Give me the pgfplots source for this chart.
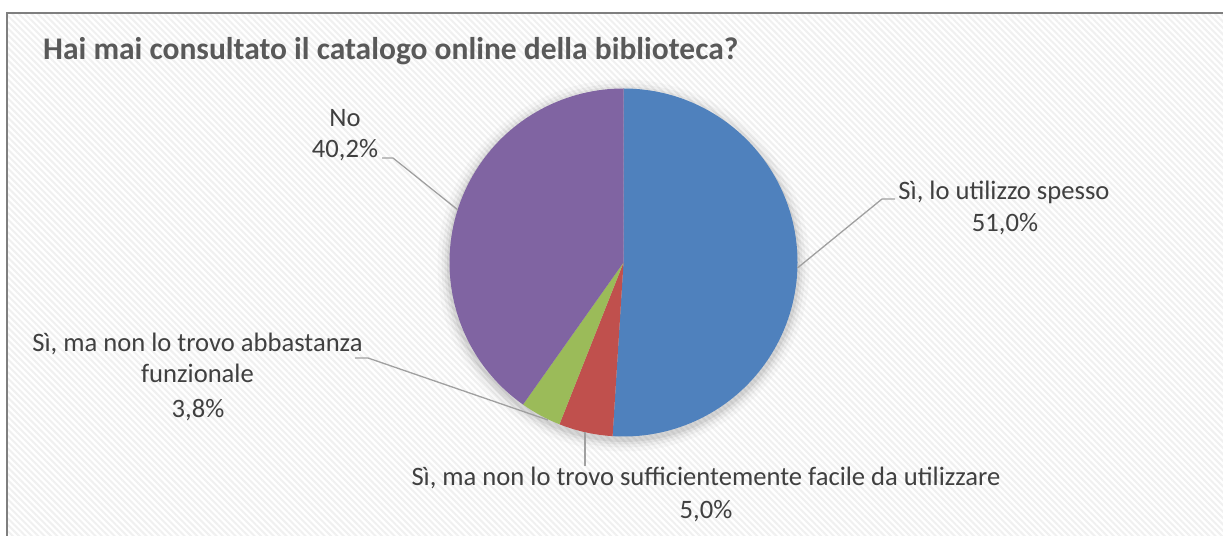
\documentclass[border=0pt]{standalone}
\usepackage{pgfplots}
\pgfplotsset{compat=1.18}
\usepackage{pgfplotstable}
\usetikzlibrary{patterns.meta}
\usepackage{fontspec}
\setmainfont{Carlito}
\definecolor{pieblue}{HTML}{4F81BD}
\definecolor{piered}{HTML}{C0504D}
\definecolor{piegreen}{HTML}{9BBB59}
\definecolor{piepurple}{HTML}{8064A2}
\definecolor{labeltext}{HTML}{404040}
\definecolor{titletext}{HTML}{595959}
\definecolor{leader}{HTML}{A0A0A0}
\definecolor{framegray}{HTML}{7F7F7F}
\newcommand\labfont{\fontsize{26.6bp}{30bp}\selectfont}
\newcommand\titfont{\fontsize{31.5bp}{34bp}\selectfont\bfseries}

\pgfplotstableread{
share colour
51.0 pieblue
5.0 piered
3.8 piegreen
40.2 piepurple
}\piedata

\begin{document}
\begin{tikzpicture}[lab/.style={text=labeltext, inner sep=0pt, anchor=base}]
\useasboundingbox (0,0) rectangle (1223bp,536bp);
\clip (0,0) rectangle (1223bp,536bp);
% cumulative angles from the data (clockwise from 12 o'clock)
\xdef\cum{90}
\foreach \i in {0,...,3}{%
  \pgfplotstablegetelem{\i}{share}\of\piedata
  \pgfmathsetmacro\endang{\cum-3.6*\pgfplotsretval}%
  \expandafter\xdef\csname sa\i\endcsname{\cum}%
  \expandafter\xdef\csname ea\i\endcsname{\endang}%
  \pgfplotstablegetelem{\i}{colour}\of\piedata
  \expandafter\xdef\csname col\i\endcsname{\pgfplotsretval}%
  \xdef\cum{\endang}%
}
\begin{axis}[
  at={(0,0)}, anchor=south west,
  width=1223bp, height=536bp, scale only axis,
  xmin=0, xmax=1223, ymin=0, ymax=536,
  hide axis, clip=false,
]
% background and frame
\fill[white] (axis cs:0,0) rectangle (axis cs:1223,536);
\fill[pattern={Lines[angle=-45,distance=4.5bp,line width=2bp]}, pattern color=black!6]
  (axis cs:7,523) rectangle (axis cs:1260,-30);
\draw[framegray, line width=2bp] (axis cs:7,-30) -- (axis cs:7,523) -- (axis cs:1260,523);
% soft shadow
\fill[black, opacity=0.025] (axis cs:623.5,270.5) circle[radius=186bp];
\fill[black, opacity=0.035] (axis cs:623.5,270.5) circle[radius=182bp];
\fill[black, opacity=0.045] (axis cs:623.5,270.5) circle[radius=179bp];
\fill[black, opacity=0.06] (axis cs:623.5,270.5) circle[radius=176.5bp];
% pie slices
\pgfplotsinvokeforeach{0,...,3}{
  \fill[\csname col#1\endcsname] (axis cs:623.5,273.5) -- ++(\csname sa#1\endcsname:174bp)
    arc[start angle=\csname sa#1\endcsname, end angle=\csname ea#1\endcsname, radius=174bp] -- cycle;
}
% leader lines
\draw[leader, line width=1.3bp] (axis cs:382,378) -- (axis cs:393,378) -- (axis cs:457.7,326.2);
\draw[leader, line width=1.3bp] (axis cs:895,337) -- (axis cs:882,337) -- (axis cs:797.4,268);
\draw[leader, line width=1.3bp] (axis cs:355,178) -- (axis cs:368,178) -- (axis cs:548,116);
\draw[leader, line width=1.3bp] (axis cs:585,104) -- (axis cs:585,70);
% title
\node[anchor=base west, text=titletext, inner sep=0pt] at (axis cs:43,476)
  {\titfont Hai mai consultato il catalogo online della biblioteca?};
% labels
\node[lab] at (axis cs:345,409) {\labfont No};
\node[lab] at (axis cs:345,378) {\labfont 40,2\%};
\node[lab] at (axis cs:1004,336) {\labfont Sì, lo utilizzo spesso};
\node[lab] at (axis cs:1005,304) {\labfont 51,0\%};
\node[lab] at (axis cs:197.5,184) {\labfont Sì, ma non lo trovo abbastanza};
\node[lab] at (axis cs:197.5,153) {\labfont funzionale};
\node[lab] at (axis cs:198,118) {\labfont 3,8\%};
\node[lab] at (axis cs:706,50) {\labfont Sì, ma non lo trovo sufficientemente facile da utilizzare};
\node[lab] at (axis cs:706,18) {\labfont 5,0\%};
\end{axis}
\end{tikzpicture}
\end{document}
